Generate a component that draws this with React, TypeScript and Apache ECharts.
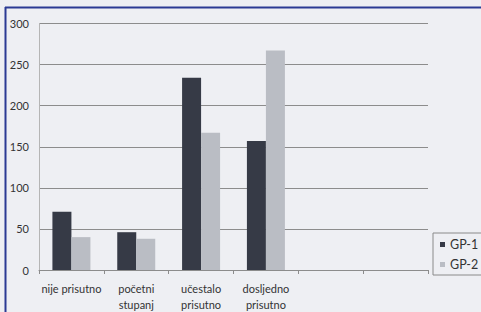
import React, { useEffect, useRef } from "react";
import * as echarts from "echarts";

const categories = ["nije prisutno", "početni\nstupanj", "učestalo\nprisutno", "dosljedno\nprisutno", "", ""];
const gp1 = [71, 46, 234, 157, null, null];
const gp2 = [40, 38, 167, 267, null, null];
const seriesNames = ["GP-1", "GP-2"];

export default function App() {
  const ref = useRef<HTMLDivElement>(null);
  useEffect(() => {
    const chart = echarts.init(ref.current!, null, { renderer: "svg" });
    chart.setOption({
      animation: false,
      backgroundColor: "#eeeff3",
      textStyle: { fontFamily: "Lato" },
      grid: { left: 39, right: 53, top: 23.5, bottom: 40 },
      legend: {
        orient: "vertical",
        left: 433,
        top: 233,
        padding: [5, 20, 4, 7],
        borderColor: "#8a8a8a",
        borderWidth: 1,
        itemWidth: 5,
        itemHeight: 5,
        itemGap: 7,
        icon: "rect",
        textStyle: { fontSize: 12.5, color: "#333", fontFamily: "Lato" },
        data: seriesNames,
      },
      xAxis: {
        type: "category",
        data: categories,
        axisLine: { lineStyle: { color: "#8c8c8c" } },
        axisTick: { show: true, length: 4, lineStyle: { color: "#8c8c8c" } },
        axisLabel: { color: "#333", fontSize: 11, lineHeight: 16, margin: 10, interval: 0, fontFamily: "Lato" },
      },
      yAxis: {
        type: "value",
        min: 0,
        max: 300,
        interval: 50,
        axisLine: { show: true, lineStyle: { color: "#b5b5b5" } },
        axisTick: { show: false },
        axisLabel: { color: "#333", fontSize: 11, margin: 10, fontFamily: "Lato" },
        splitLine: { lineStyle: { color: "#8c8c8c", width: 1 } },
      },
      series: [
        {
          name: seriesNames[0],
          type: "bar",
          data: gp1,
          barWidth: 19,
          barGap: "0%",
          itemStyle: { color: "#363a46" },
        },
        {
          name: seriesNames[1],
          type: "bar",
          data: gp2,
          barWidth: 19,
          barGap: "0%",
          itemStyle: { color: "#babdc4" },
        },
      ],
      graphic: [
        { type: "line", shape: { x1: 5.5, y1: 7, x2: 5.5, y2: 312 }, style: { stroke: "#2b3a94", lineWidth: 2 } },
        { type: "line", shape: { x1: 5, y1: 7.5, x2: 481, y2: 7.5 }, style: { stroke: "#2b3a94", lineWidth: 2 } },
      ],
    });
    return () => chart.dispose();
  }, []);
  return (
    <div
      ref={ref}
      style={{ position: "fixed", left: 0, top: 0, width: 481, height: 312 }}
    />
  );
}
